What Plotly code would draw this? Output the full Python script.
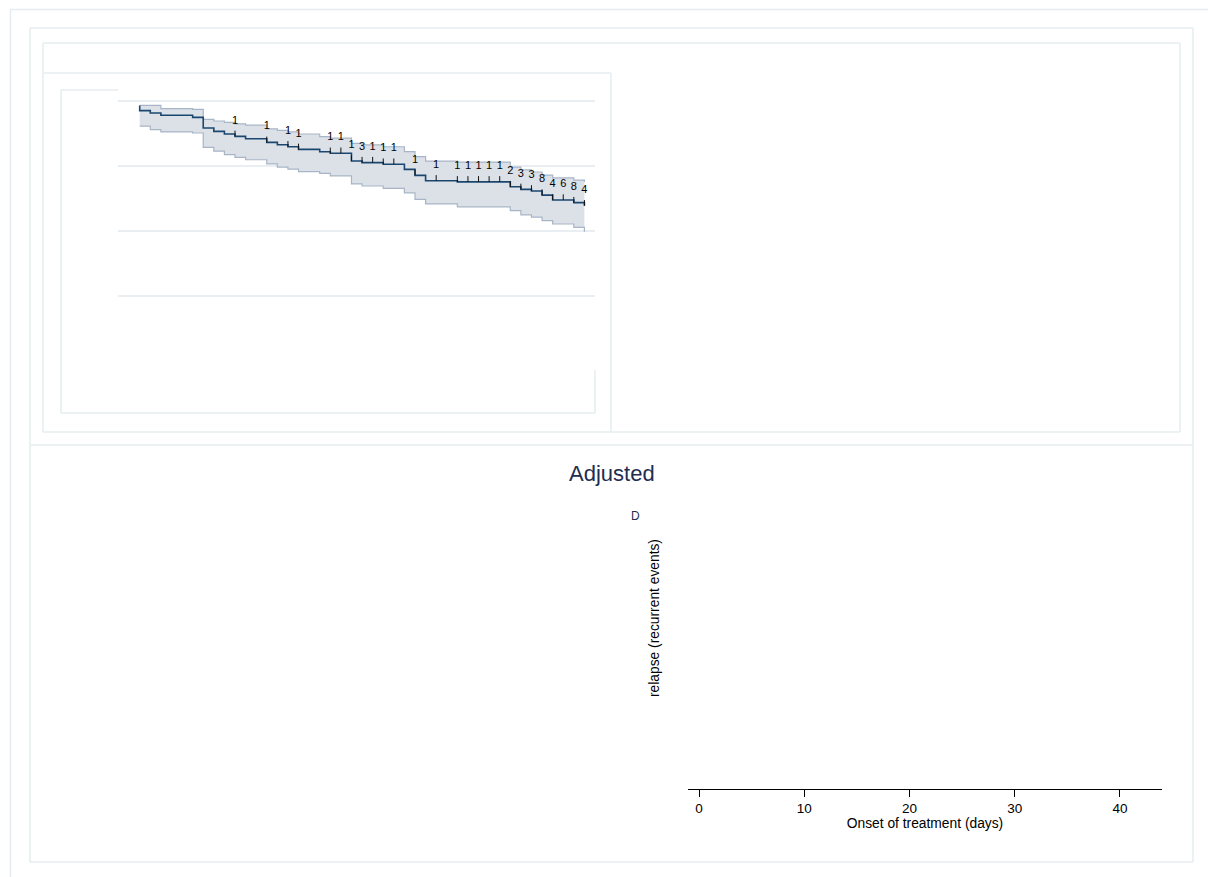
import numpy as np
import plotly.graph_objects as go

W, H = 1208, 877

# ---------------- data ----------------
days = [1, 2, 3, 6, 7, 8, 9, 10, 11, 13, 14, 15, 16, 18, 19, 21, 22, 24, 26, 27,
        28, 31, 36, 37, 38, 39, 40, 42, 43]
surv_start = 0.983
surv = [0.963, 0.954, 0.945, 0.937, 0.896, 0.883, 0.873, 0.864, 0.855, 0.841,
        0.832, 0.824, 0.814, 0.805, 0.799, 0.769, 0.763, 0.757, 0.737, 0.714,
        0.693, 0.689, 0.670, 0.660, 0.654, 0.638, 0.619, 0.609, 0.597]
upper = [0.983, 0.983, 0.971, 0.968, 0.929, 0.923, 0.918, 0.912, 0.907, 0.893,
         0.887, 0.881, 0.873, 0.863, 0.857, 0.837, 0.831, 0.824, 0.805, 0.786,
         0.769, 0.765, 0.746, 0.735, 0.727, 0.715, 0.704, 0.696, 0.688]
lower = [0.903, 0.890, 0.881, 0.877, 0.822, 0.807, 0.794, 0.783, 0.774, 0.758,
         0.746, 0.738, 0.728, 0.722, 0.712, 0.681, 0.673, 0.664, 0.647, 0.622,
         0.604, 0.593, 0.578, 0.562, 0.553, 0.540, 0.527, 0.514, 0.497]
cens_days = [10, 13, 15, 16, 19, 20, 21, 22, 23, 24, 25, 27, 29, 31, 32, 33, 34,
             35, 36, 37, 38, 39, 40, 41, 42, 43]
cens_n = [1, 1, 1, 1, 1, 1, 1, 3, 1, 1, 1, 1, 1, 1, 1, 1, 1, 1, 2, 3, 3, 8, 4,
          6, 8, 4]
x_ticks = [0, 10, 20, 30, 40]
y_grid = [0.25, 0.50, 0.75, 1.00]
x_range = [-1.05, 44.0]

title_text = "Adjusted"
sub_text = "D"
ytitle_text = "relapse (recurrent events)"
xtitle_text = "Onset of treatment (days)"

# ---------------- helpers ----------------
def px(x):
    return x / W

def py(y):
    return 1 - y / H

FONT = "Arial, 'Liberation Sans', sans-serif"
FRAME = "#e6ecef"
NAVY = "#1f2d50"

fig = go.Figure()

# CI band
fig.add_trace(go.Scatter(x=days, y=lower, mode="lines", line_shape="hv",
                         line=dict(color="#a7b5c6", width=1.2),
                         hoverinfo="skip", showlegend=False))
fig.add_trace(go.Scatter(x=days, y=upper, mode="lines", line_shape="hv",
                         line=dict(color="#a7b5c6", width=1.2),
                         fill="tonexty", fillcolor="#dce1e8",
                         hoverinfo="skip", showlegend=False))
# survivor curve
fig.add_trace(go.Scatter(x=[days[0]] + days, y=[surv_start] + surv, mode="lines",
                         line_shape="hv", line=dict(color="#1a476f", width=1.6),
                         hoverinfo="skip", showlegend=False))

# censoring ticks & numbers
d_arr = np.array(days)
s_arr = np.array(surv)
idx = np.searchsorted(d_arr, np.array(cens_days), side="right") - 1
cs = s_arr[idx]
tx, ty = [], []
for d, s in zip(cens_days, cs):
    tx += [d, d, None]
    ty += [s, s + 0.022, None]
fig.add_trace(go.Scatter(x=tx, y=ty, mode="lines", line=dict(color="#111111", width=1),
                         hoverinfo="skip", showlegend=False))
fig.add_trace(go.Scatter(x=cens_days, y=cs + 0.06, mode="text",
                         text=[str(n) for n in cens_n], textposition="middle center",
                         textfont=dict(family=FONT, size=11, color="#000000"),
                         hoverinfo="skip", showlegend=False))

# empty trace for the lower axis
fig.add_trace(go.Scatter(x=[], y=[], xaxis="x2", yaxis="y2", showlegend=False))

# ---------------- frames ----------------
shapes = []

def line(x0, y0, x1, y1, color=FRAME, width=1.5):
    shapes.append(dict(type="line", xref="paper", yref="paper",
                       x0=px(x0), y0=py(y0), x1=px(x1), y1=py(y1),
                       line=dict(color=color, width=width)))

def rect(x0, y0, x1, y1):
    line(x0, y0, x1, y0); line(x1, y0, x1, y1)
    line(x1, y1, x0, y1); line(x0, y1, x0, y0)

line(10, 9.5, 1208, 9.5)
line(10.5, 9, 10.5, 877)
rect(30, 28, 1193, 862)
rect(43, 43, 1180, 432)
line(44, 73, 611, 73)
line(611, 73, 611, 432)
line(61, 90, 118, 90)
line(61, 90, 61, 413)
line(61, 413, 595, 413)
line(595, 370, 595, 413)
line(30, 445, 1193, 445)

# ---------------- layout ----------------
fig.update_layout(
    width=W, height=H, autosize=False,
    margin=dict(l=0, r=0, t=0, b=0),
    paper_bgcolor="white", plot_bgcolor="rgba(0,0,0,0)",
    font=dict(family=FONT, color="#000000"),
    showlegend=False,
    shapes=shapes,
    xaxis=dict(domain=[px(118), px(595)], range=x_range, anchor="y",
               showgrid=False, zeroline=False, showline=False,
               showticklabels=False, ticks=""),
    yaxis=dict(domain=[py(413), py(90)], range=[-0.2, 1.0423], anchor="x",
               tickvals=y_grid, showgrid=True, gridcolor="#e8eef1", gridwidth=1.5,
               zeroline=False, showline=False, showticklabels=False, ticks=""),
    xaxis2=dict(domain=[px(688), px(1162)], range=x_range, anchor="y2",
                tickvals=x_ticks, ticks="outside", ticklen=7, tickwidth=1,
                tickcolor="#000000", showline=True, linecolor="#000000",
                linewidth=1, showgrid=False, zeroline=False,
                tickfont=dict(family=FONT, size=13.5, color="#000000"),
                title=dict(text=xtitle_text, standoff=0,
                           font=dict(family=FONT, size=13.8, color="#000000"))),
    yaxis2=dict(domain=[py(789), py(520)], range=[0, 1], anchor="x2",
                visible=False),
    annotations=[
        dict(text=title_text, x=px(612), y=py(473), xref="paper", yref="paper",
             showarrow=False, xanchor="center", yanchor="middle",
             font=dict(family=FONT, size=22, color=NAVY)),
        dict(text=sub_text, x=px(635), y=py(516), xref="paper", yref="paper",
             showarrow=False, xanchor="center", yanchor="middle",
             font=dict(family=FONT, size=12, color=NAVY)),
        dict(text=ytitle_text, x=px(654), y=py(618), xref="paper", yref="paper",
             showarrow=False, xanchor="center", yanchor="middle", textangle=-90,
             font=dict(family=FONT, size=13.8, color="#000000")),
    ],
)

fig.write_html("out.html", config={"displayModeBar": False},
               post_script="document.body.style.margin='0';document.body.style.overflow='hidden';")
